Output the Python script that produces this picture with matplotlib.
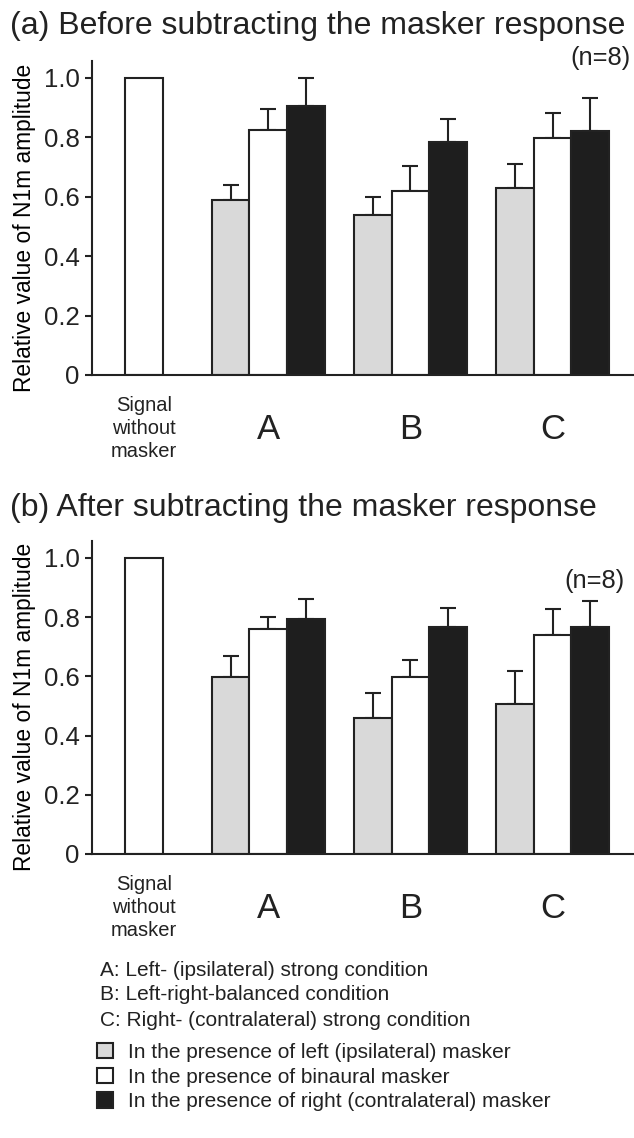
import matplotlib.pyplot as plt
from matplotlib.patches import Patch

plt.rcParams['font.family'] = ['Liberation Sans', 'DejaVu Sans']
plt.rcParams['text.color'] = '#222222'
plt.rcParams['axes.edgecolor'] = '#222222'
plt.rcParams['xtick.color'] = '#222222'
plt.rcParams['ytick.color'] = '#222222'

conditions = ["A", "B", "C"]
signal_value = 1.0

# panel (a): before subtracting the masker response
a_left = [0.59, 0.54, 0.63]
a_left_err = [0.05, 0.06, 0.08]
a_binaural = [0.825, 0.62, 0.797]
a_binaural_err = [0.07, 0.084, 0.086]
a_right = [0.907, 0.783, 0.82]
a_right_err = [0.093, 0.08, 0.113]

# panel (b): after subtracting the masker response
b_left = [0.598, 0.458, 0.508]
b_left_err = [0.072, 0.084, 0.109]
b_binaural = [0.76, 0.597, 0.741]
b_binaural_err = [0.039, 0.059, 0.086]
b_right = [0.794, 0.765, 0.765]
b_right_err = [0.066, 0.067, 0.089]

group_x = [3.30, 7.07, 10.84]
gray = '#d9d9d9'
black = '#1e1e1e'
edge = '#222222'


def draw_panel(ax, left, left_err, binaural, binaural_err, right, right_err):
    ax.bar([0], [signal_value], width=1.0, color='white', edgecolor=edge, linewidth=1.5, zorder=2)
    series = [(left, left_err, gray, -1), (binaural, binaural_err, 'white', 0), (right, right_err, black, 1)]
    for vals, errs, col, off in series:
        xs = [g + off for g in group_x]
        ax.bar(xs, vals, width=1.0, color=col, edgecolor=edge, linewidth=1.5, zorder=2)
        ax.errorbar(xs, vals, yerr=[[0] * len(errs), errs], fmt='none', ecolor=edge,
                    elinewidth=1.5, capsize=6, capthick=1.5, zorder=1)
    ax.set_xlim(-1.38, 13.0)
    ax.set_ylim(0, 1.057)
    ax.set_yticks([0, 0.2, 0.4, 0.6, 0.8, 1.0])
    ax.set_yticklabels(['0', '0.2', '0.4', '0.6', '0.8', '1.0'], fontsize=18.5)
    ax.tick_params(axis='y', length=5, width=1.5, pad=4)
    ax.set_xticks([0] + group_x)
    ax.set_xticklabels(["Signal\nwithout\nmasker"] + conditions)
    ax.tick_params(axis='x', length=0, pad=15)
    labels = ax.get_xticklabels()
    labels[0].set_fontsize(14.5)
    labels[0].set_linespacing(1.27)
    for lab in labels[1:]:
        lab.set_fontsize(25)
        lab.set_y(-0.055)
    for s in ['top', 'right']:
        ax.spines[s].set_visible(False)
    ax.spines['left'].set_linewidth(1.5)
    ax.spines['bottom'].set_linewidth(1.5)
    ax.set_ylabel("Relative value of N1m amplitude", fontsize=16.4)
    ax.yaxis.set_label_coords(-0.103, 0.47)


fig = plt.figure(figsize=(6.34, 11.38), dpi=100)
ax1 = fig.add_axes([0.145, 0.6705, 0.855, 0.2759])
ax2 = fig.add_axes([0.145, 0.2496, 0.855, 0.2750])
draw_panel(ax1, a_left, a_left_err, a_binaural, a_binaural_err, a_right, a_right_err)
draw_panel(ax2, b_left, b_left_err, b_binaural, b_binaural_err, b_right, b_right_err)

fig.text(0.016, 1 - 26 / 1138, "(a) Before subtracting the masker response", fontsize=23, va='center')
fig.text(0.016, 1 - 508 / 1138, "(b) After subtracting the masker response", fontsize=23, va='center')
fig.text(0.995, 1 - 58 / 1138, "(n=8)", fontsize=18.4, ha='right', va='center')
fig.text(0.986, 1 - 581 / 1138, "(n=8)", fontsize=18.4, ha='right', va='center')

notes = ["A: Left- (ipsilateral) strong condition",
         "B: Left-right-balanced condition",
         "C: Right- (contralateral) strong condition"]
for i, t in enumerate(notes):
    fig.text(0.157, 1 - (970 + 25 * i) / 1138, t, fontsize=15, va='center')

handles = [Patch(facecolor=gray, edgecolor=edge, linewidth=1.5),
           Patch(facecolor='white', edgecolor=edge, linewidth=1.5),
           Patch(facecolor=black, edgecolor=edge, linewidth=1.5)]
legend_labels = ["In the presence of left (ipsilateral) masker",
                 "In the presence of binaural masker",
                 "In the presence of right (contralateral) masker"]
fig.legend(handles, legend_labels, loc='upper left', bbox_to_anchor=(0.153, 1 - 1043 / 1138),
           frameon=False, fontsize=15, handlelength=0.75, handleheight=0.75,
           handletextpad=0.75, labelspacing=0.27, borderpad=0, borderaxespad=0)

fig.savefig("out.png", dpi=100)
